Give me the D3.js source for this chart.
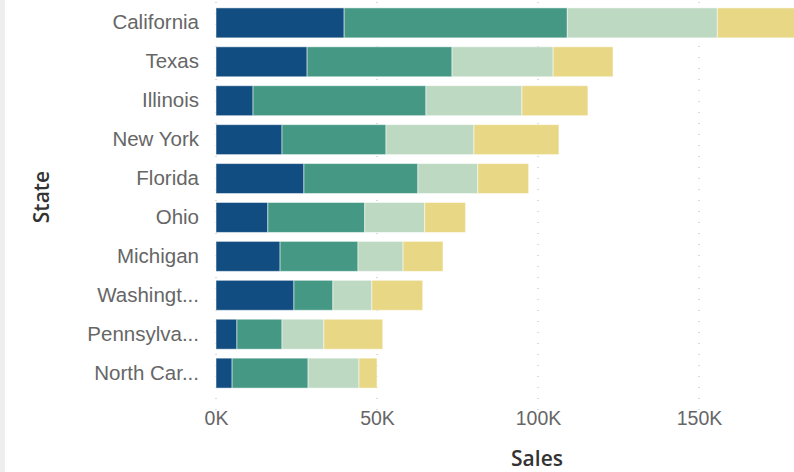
<!DOCTYPE html>
<html>
<head>
<meta charset="utf-8">
<script src="https://cdn.jsdelivr.net/npm/d3@7"></script>
<style>
  body { margin: 0; background: #fff; }
  svg { display: block; font-family: "Open Sans", "Noto Sans", sans-serif; }
</style>
</head>
<body>
<svg width="794" height="472"></svg>
<script>
var states = ["California", "Texas", "Illinois", "New York", "Florida", "Ohio",
              "Michigan", "Washington", "Pennsylvania", "North Carolina"];
var seriesNames = ["S1", "S2", "S3", "S4"];
// sales per series, in thousands
var s1 = [39.8, 28.3, 11.5, 20.5, 27.3, 16.1, 19.9, 24.2, 6.5, 5.0];
var s2 = [69.3, 45.0, 53.7, 32.3, 35.4, 30.1, 24.2, 12.1, 14.0, 23.6];
var s3 = [46.6, 31.4, 29.8, 27.3, 18.6, 18.6, 14.0, 12.1, 13.0, 15.8];
var s4 = [26.0, 18.6, 20.5, 26.4, 15.8, 12.7, 12.4, 15.8, 18.3, 5.6];
var xTicks = [0, 50, 100, 150];
var colors = ["#124d81", "#449884", "#bdd9c2", "#e8d785"];

var svg = d3.select("svg");
var plotLeft = 216, plotTop = 4;
var plotH = 388;

var rows = states.map(function(s, i) {
  return { state: s, S1: s1[i], S2: s2[i], S3: s3[i], S4: s4[i] };
});

var x = d3.scaleLinear().domain([0, 50]).range([plotLeft, plotLeft + 161]);
var y = d3.scaleBand().domain(states).range([plotTop, plotTop + plotH]).paddingInner(0.23).paddingOuter(0.1);

// left panel strip
svg.append("rect").attr("x", 0).attr("y", 0).attr("width", 5).attr("height", 472).attr("fill", "#eeeeee");

// dotted gridlines
svg.append("g").selectAll("line")
  .data(xTicks)
  .enter().append("line")
  .attr("x1", function(d) { return x(d); })
  .attr("x2", function(d) { return x(d); })
  .attr("y1", 2)
  .attr("y2", 410)
  .attr("stroke", "#b8b8b8")
  .attr("stroke-width", 1)
  .attr("stroke-dasharray", "1,10");

var stack = d3.stack().keys(seriesNames)(rows);

svg.append("g").selectAll("g")
  .data(stack)
  .enter().append("g")
  .attr("fill", function(d, i) { return colors[i]; })
  .selectAll("rect")
  .data(function(d) { return d; })
  .enter().append("rect")
  .attr("x", function(d) { return x(d[0]); })
  .attr("y", function(d) { return y(d.data.state); })
  .attr("width", function(d) { return x(d[1]) - x(d[0]); })
  .attr("height", y.bandwidth())
  .attr("stroke", "#ffffff")
  .attr("stroke-opacity", 0.5)
  .attr("stroke-width", 1);

// y axis labels
var labels = {"Washington": "Washingt...", "Pennsylvania": "Pennsylva...", "North Carolina": "North Car..."};
var yAxis = svg.append("g")
  .attr("transform", "translate(" + (plotLeft - 17) + ",0)")
  .call(d3.axisLeft(y).tickSize(0).tickPadding(0).tickFormat(function(d) { return labels[d] || d; }));
yAxis.select(".domain").remove();
yAxis.selectAll("text")
  .attr("fill", "#666666")
  .style("font-size", "20.5px");

// x axis labels
var xAxis = svg.append("g")
  .attr("transform", "translate(0,411)")
  .call(d3.axisBottom(x).tickValues(xTicks).tickSize(0).tickPadding(0).tickFormat(function(d) { return d + "K"; }));
xAxis.select(".domain").remove();
xAxis.selectAll("text")
  .attr("fill", "#666666")
  .style("font-size", "19.5px");

svg.append("text")
  .attr("x", 537)
  .attr("y", 466)
  .attr("text-anchor", "middle")
  .attr("fill", "#333333")
  .style("font-size", "21px")
  .style("font-weight", "600")
  .text("Sales");

svg.append("text")
  .attr("transform", "translate(49,197) rotate(-90)")
  .attr("text-anchor", "middle")
  .attr("fill", "#333333")
  .style("font-size", "21px")
  .style("font-weight", "600")
  .text("State");
</script>
</body>
</html>
